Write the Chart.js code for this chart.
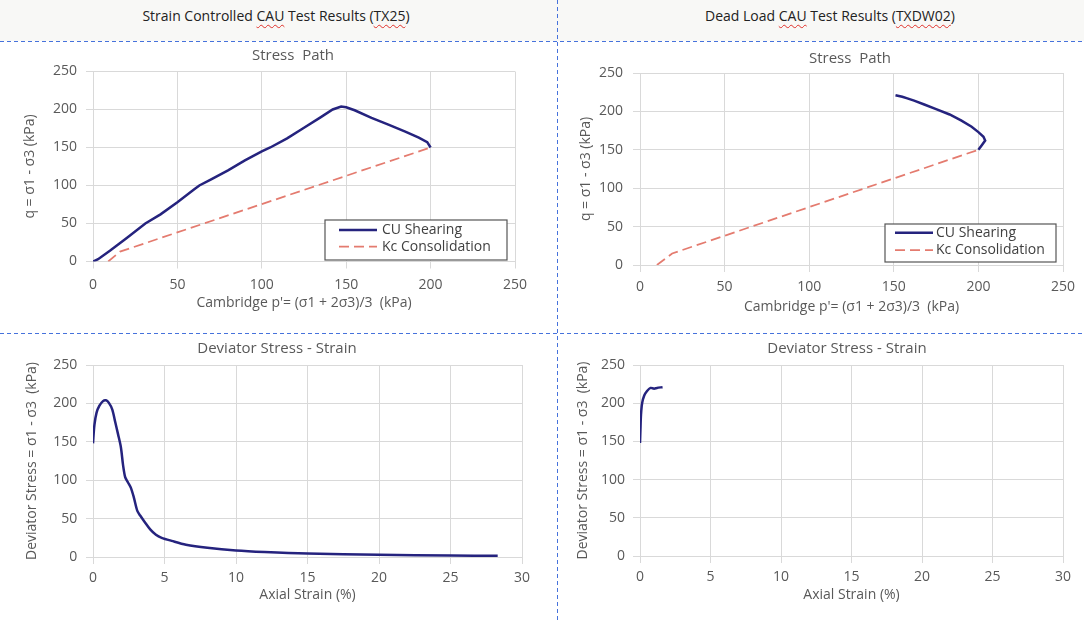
<!DOCTYPE html>
<html>
<head>
<meta charset="utf-8">
<title>CAU Test Results</title>
<script src="https://cdn.jsdelivr.net/npm/chart.js@4.4.1/dist/chart.umd.min.js"></script>
<style>
  body { margin: 0; background: #fff; font-family: "Open Sans", sans-serif; }
  #page { position: relative; width: 1084px; height: 620px; overflow: hidden; background: #fff; }
  #topband { position: absolute; left: 0; top: 0; width: 1084px; height: 41px; background: #f8f8f6; }
  .heading { position: absolute; top: 15px; font-size: 14px; color: #222; white-space: pre;
             transform: translate(-50%, -50%); }
  .heading .sp { text-decoration: underline wavy #e0302a; text-decoration-thickness: 1px; text-underline-offset: 3px; }
  .ptitle { position: absolute; font-size: 15px; color: #595959; white-space: pre;
            transform: translate(-50%, -50%); }
  /* blue dashed separators between the four panels */
  .hline { position: absolute; left: 0; width: 1084px; height: 1px;
           background: repeating-linear-gradient(to right, #4672dc 0 4px, transparent 4px 7px); }
  .vline { position: absolute; top: 0; width: 1px; height: 620px;
           background: repeating-linear-gradient(to bottom, #4672dc 0 4px, transparent 4px 7px); }
  canvas { position: absolute; }
</style>
</head>
<body>
<div id="page">
  <div id="topband"></div>
  <div class="heading" style="left:276px">Strain Controlled <span class="sp">CAU</span> Test Results (<span class="sp">TX25</span>)</div>
  <div class="heading" style="left:830px">Dead Load <span class="sp">CAU</span> Test Results (<span class="sp">TXDW02</span>)</div>

  <canvas id="pathTX25" width="557" height="272" style="left:0;top:44px"></canvas>
  <canvas id="pathTXDW02" width="527" height="272" style="left:557px;top:44px"></canvas>
  <canvas id="strainTX25" width="557" height="276" style="left:0;top:336px"></canvas>
  <canvas id="strainTXDW02" width="527" height="276" style="left:557px;top:336px"></canvas>

  <div class="ptitle" style="left:293px;top:54px">Stress  Path</div>
  <div class="ptitle" style="left:850px;top:57px">Stress  Path</div>
  <div class="ptitle" style="left:277px;top:347px">Deviator Stress - Strain</div>
  <div class="ptitle" style="left:847px;top:347px">Deviator Stress - Strain</div>

  <div class="hline" style="top:41px"></div>
  <div class="hline" style="top:333px"></div>
  <div class="vline" style="left:557px"></div>
</div>

<script>
// ---- TX25 (strain controlled) ----
// stress path, shearing from the consolidated state (p', q in kPa)
const tx25ShearP = [200, 198, 193, 185, 175, 165, 155, 150, 147, 142, 135, 125, 115, 105, 100, 90, 80, 70, 63, 60, 50, 40, 31, 20, 10, 3, 0];
const tx25ShearQ = [150, 157, 163, 171, 180, 189, 199, 203, 204, 200, 190, 176, 162, 150, 145, 133, 120, 108, 100, 95, 78, 62, 50, 31, 14, 3, 0];
// Kc consolidation path
const tx25ConsP = [9, 16, 200];
const tx25ConsQ = [0, 13, 150];
// deviator stress vs axial strain
const tx25Strain = [0, 0.1, 0.25, 0.45, 0.7, 0.9, 1.1, 1.35, 1.55, 1.75, 1.95, 2.1, 2.25, 2.45, 2.65, 2.85, 3.1, 3.3, 3.6, 4.0, 4.4, 4.8, 5.5, 6.5, 8, 10, 12, 15, 20, 25, 28.3];
const tx25Dev    = [148, 172, 188, 197, 203, 204, 201, 192, 176, 160, 143, 120, 104, 97, 90, 78, 60, 54, 46, 36, 29, 25, 21, 16, 12, 8.5, 6.5, 4.5, 2.8, 2, 1.5];

// ---- TXDW02 (dead load) ----
const txdwShearP = [200, 202, 204, 203, 200, 196, 190, 183, 175, 168, 162, 158, 155, 151];
const txdwShearQ = [150, 156, 162, 167, 173, 180, 188, 196, 203, 209, 214, 217, 219, 221];
const txdwConsP = [10, 19, 200];
const txdwConsQ = [0, 15, 150];
const txdwStrain = [0, 0.03, 0.07, 0.15, 0.3, 0.5, 0.75, 1.0, 1.2, 1.6];
const txdwDev    = [148, 165, 185, 200, 210, 216, 220, 219, 220, 221];

// axis ranges / tick spacing
const pathRange = [0, 250, 50];
const strainRange = [0, 30, 5];
const stressRange = [0, 250, 50];

const seriesNames = ['CU Shearing', 'Kc Consolidation'];
const BLUE = '#25237e';
const RED = '#e47b6f';
const GREY = '#595959';

Chart.defaults.font.family = '"Open Sans", sans-serif';

const toXY = (xs, ys) => xs.map((x, i) => ({ x: x, y: ys[i] }));

// legend box drawn inside the plot, bottom-right corner
const boxLegend = {
  id: 'boxLegend',
  afterDatasetsDraw(chart, args, o) {
    if (!o.display) return;
    const { ctx, chartArea } = chart;
    const right = chartArea.right - o.right;
    const bottom = chartArea.bottom - o.bottom;
    const left = right - o.width;
    const top = bottom - o.height;
    ctx.save();
    ctx.fillStyle = '#fff';
    ctx.fillRect(left, top, o.width, o.height);
    ctx.strokeStyle = '#555';
    ctx.lineWidth = 1.2;
    ctx.strokeRect(left, top, o.width, o.height);
    ctx.font = '14px "Open Sans", sans-serif';
    ctx.textBaseline = 'middle';
    chart.data.datasets.forEach((ds, i) => {
      const y = top + o.rowTop + i * o.rowGap;
      ctx.beginPath();
      ctx.setLineDash(ds.borderDash || []);
      ctx.strokeStyle = ds.borderColor;
      ctx.lineWidth = ds.borderWidth;
      ctx.moveTo(left + o.lineStart, y);
      ctx.lineTo(left + o.lineStart + o.lineLen, y);
      ctx.stroke();
      ctx.setLineDash([]);
      ctx.fillStyle = '#404040';
      ctx.fillText(ds.label, left + o.textStart, y);
    });
    ctx.restore();
  }
};

function axes(xr, yr, xTitle, yTitle, g) {
  return {
    x: {
      type: 'linear', min: xr[0], max: xr[1],
      ticks: { stepSize: xr[2], padding: g.xTickPad, color: GREY, font: { size: 14 } },
      grid: { color: '#d9d9d9', tickLength: 7 },
      border: { color: '#d9d9d9' },
      title: { display: true, text: xTitle, color: GREY, font: { size: 14 }, padding: { top: 0, bottom: g.xTitlePad } },
      afterFit(s) { s.height = g.xHeight; }
    },
    y: {
      type: 'linear', min: yr[0], max: yr[1],
      ticks: { stepSize: yr[2], padding: g.yTickPad, color: GREY, font: { size: 14 } },
      grid: { color: '#d9d9d9', tickLength: 7 },
      border: { color: '#d9d9d9' },
      title: { display: true, text: yTitle, color: GREY, font: { size: 14 }, padding: { top: g.yTitlePad, bottom: 0 } },
      afterFit(s) { s.width = g.yWidth; }
    }
  };
}

function makeChart(id, datasets, scales, pad, legend) {
  return new Chart(document.getElementById(id), {
    type: 'scatter',
    data: { datasets: datasets },
    options: {
      responsive: false,
      animation: false,
      devicePixelRatio: 1,
      layout: { padding: pad },
      scales: scales,
      elements: { point: { radius: 0, hoverRadius: 0 } },
      plugins: {
        legend: { display: false },
        tooltip: { enabled: false },
        boxLegend: legend || { display: false }
      }
    },
    plugins: [boxLegend]
  });
}

const shearStyle = { showLine: true, borderColor: BLUE, backgroundColor: BLUE, borderWidth: 2.5, tension: 0 };
const consStyle = { showLine: true, borderColor: RED, backgroundColor: RED, borderWidth: 1.75, borderDash: [10, 5], tension: 0 };
const curveStyle = { showLine: true, borderColor: BLUE, backgroundColor: BLUE, borderWidth: 2.5, tension: 0.3 };

const pTitle = "Cambridge p'= (\u03c31 + 2\u03c33)/3  (kPa)";
const qTitle = 'q = \u03c31 - \u03c33 (kPa)';
const devTitle = 'Deviator Stress = \u03c31 - \u03c33  (kPa)';
const strainTitle = 'Axial Strain (%)';

// top left: TX25 stress path
makeChart('pathTX25', [
  Object.assign({ label: seriesNames[0], data: toXY(tx25ShearP, tx25ShearQ) }, shearStyle),
  Object.assign({ label: seriesNames[1], data: toXY(tx25ConsP, tx25ConsQ) }, consStyle)
], axes(pathRange, stressRange, pTitle, qTitle,
  { xHeight: 54.5, xTickPad: 8.4, xTitlePad: 4.6, yWidth: 93, yTickPad: 9, yTitlePad: 21.6 }),
  { top: 27.5, right: 42, left: 0, bottom: 0 },
  { display: true, width: 182, height: 40, right: 8, bottom: 1.5, rowTop: 10, rowGap: 16.7, lineStart: 14, lineLen: 38, textStart: 57 });

// top right: TXDW02 stress path
makeChart('pathTXDW02', [
  Object.assign({ label: seriesNames[0], data: toXY(txdwShearP, txdwShearQ) }, shearStyle),
  Object.assign({ label: seriesNames[1], data: toXY(txdwConsP, txdwConsQ) }, consStyle)
], axes(pathRange, stressRange, pTitle, qTitle,
  { xHeight: 51, xTickPad: 6.6, xTitlePad: 0.9, yWidth: 83, yTickPad: 10, yTitlePad: 20.6 }),
  { top: 29, right: 21, left: 0, bottom: 0 },
  { display: true, width: 171, height: 38, right: 7, bottom: 3, rowTop: 8.7, rowGap: 17.3, lineStart: 10, lineLen: 38, textStart: 51 });

// bottom left: TX25 deviator stress vs strain
makeChart('strainTX25', [
  Object.assign({ label: seriesNames[0], data: toXY(tx25Strain, tx25Dev) }, curveStyle)
], axes(strainRange, stressRange, strainTitle, devTitle,
  { xHeight: 55, xTickPad: 5.9, xTitlePad: 8.6, yWidth: 93, yTickPad: 8.7, yTitlePad: 23.6 }),
  { top: 29, right: 35, left: 0, bottom: 0 });

// bottom right: TXDW02 deviator stress vs strain
makeChart('strainTXDW02', [
  Object.assign({ label: seriesNames[0], data: toXY(txdwStrain, txdwDev) }, curveStyle)
], axes(strainRange, stressRange, strainTitle, devTitle,
  { xHeight: 56, xTickPad: 5.6, xTitlePad: 8.6, yWidth: 83, yTickPad: 8, yTitlePad: 17.6 }),
  { top: 29, right: 21, left: 0, bottom: 0 });
</script>
</body>
</html>
